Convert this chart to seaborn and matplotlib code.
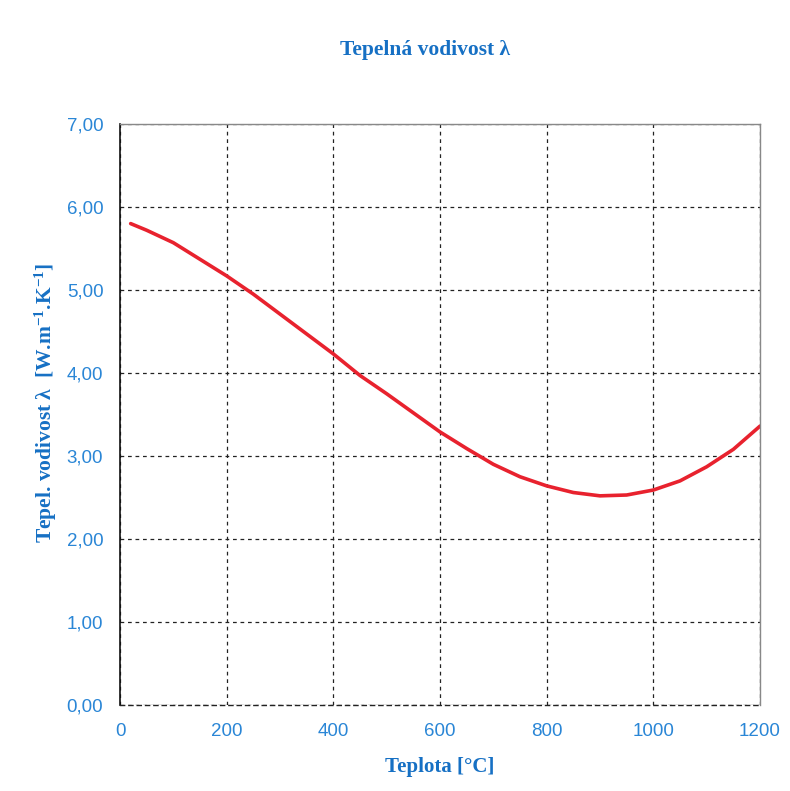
import matplotlib
matplotlib.use("Agg")
import matplotlib.pyplot as plt
import seaborn as sns
import pandas as pd
from matplotlib.ticker import FuncFormatter

# Data
teplota = [20, 50, 100, 150, 200, 250, 300, 350, 400, 450, 500, 550, 600,
           650, 700, 750, 800, 850, 900, 950, 1000, 1050, 1100, 1150, 1200]
vodivost = [5.80, 5.72, 5.57, 5.37, 5.17, 4.95, 4.71, 4.47, 4.23, 3.97, 3.75, 3.52, 3.29,
            3.09, 2.90, 2.75, 2.64, 2.56, 2.52, 2.53, 2.59, 2.70, 2.87, 3.08, 3.36]
x_ticks = [0, 200, 400, 600, 800, 1000, 1200]
y_ticks = [0, 1, 2, 3, 4, 5, 6, 7]

title = "Tepelná vodivost λ"
xlabel = "Teplota [°C]"
ylabel = "Tepel. vodivost λ  [W.m$^{-1}$.K$^{-1}$]"

df = pd.DataFrame({"Teplota": teplota, "Vodivost": vodivost})

sns.set_theme(style="white")
plt.rcParams["font.family"] = ["Liberation Sans", "DejaVu Sans"]
plt.rcParams["mathtext.fontset"] = "custom"
plt.rcParams["mathtext.rm"] = "Liberation Serif:bold"
plt.rcParams["mathtext.it"] = "Liberation Serif:bold"
plt.rcParams["mathtext.bf"] = "Liberation Serif:bold"
plt.rcParams["mathtext.default"] = "rm"

label_blue = "#1670c4"
tick_blue = "#2a86d6"

fig = plt.figure(figsize=(7.9, 7.91), dpi=100)
ax = fig.add_axes([120 / 790, 86 / 791, 640 / 790, 581 / 791])

sns.lineplot(data=df, x="Teplota", y="Vodivost", ax=ax, color="#e8222e", linewidth=2.6)

ax.set_xlim(0, 1200)
ax.set_ylim(0, 7)
ax.set_xticks(x_ticks)
ax.set_yticks(y_ticks)
ax.yaxis.set_major_formatter(FuncFormatter(lambda v, p: f"{v:.2f}".replace(".", ",")))
ax.xaxis.set_major_formatter(FuncFormatter(lambda v, p: f"{int(v)}"))

ax.grid(True, color="#222222", linestyle=(0, (3, 3)), linewidth=0.9)
ax.set_axisbelow(True)

for s in ["top", "right"]:
    ax.spines[s].set_color("#888888")
    ax.spines[s].set_linewidth(1.0)
ax.spines["left"].set_color("#111111")
ax.spines["left"].set_linewidth(1.2)
ax.spines["bottom"].set_color("#222222")
ax.spines["bottom"].set_linewidth(1.0)
ax.spines["bottom"].set_linestyle((0, (3, 3)))

ax.tick_params(axis="both", which="major", direction="out", length=5, width=1,
               color="#222222", labelcolor=tick_blue, labelsize=13.5)
ax.tick_params(axis="x", pad=8)
ax.tick_params(axis="y", pad=7)

serif = ["Liberation Serif", "DejaVu Serif"]
ax.set_xlabel(xlabel, family=serif, fontweight="bold", fontsize=15, color=label_blue, labelpad=12)
ax.set_ylabel(ylabel, family=serif, fontweight="bold", fontsize=15.5, color=label_blue)
ax.yaxis.set_label_coords(-0.095, 0.52)
fig.text(0.538, 0.937, title, family=serif, fontweight="bold", fontsize=15.5,
         color=label_blue, ha="center", va="center")

fig.savefig("out.png", dpi=100, facecolor="white")
